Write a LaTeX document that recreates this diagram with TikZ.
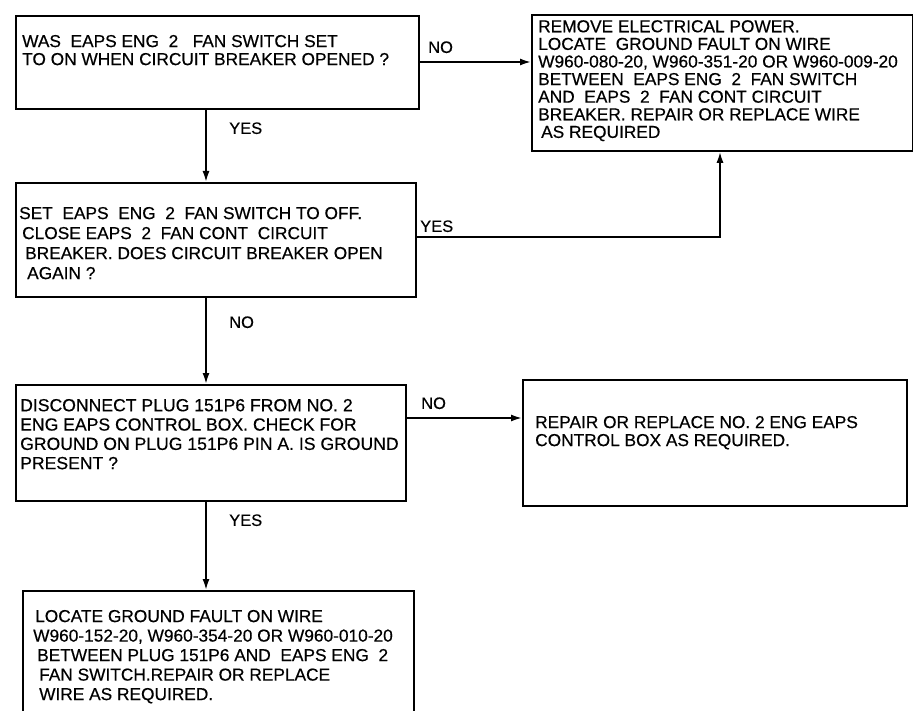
\documentclass[tikz,border=0pt]{standalone}
\usepackage{fontspec}
\setmainfont[FakeBold=0.45]{Liberation Sans}
\usetikzlibrary{arrows.meta}
\begin{document}
\begin{tikzpicture}[x=1pt,y=-1pt,
  box/.style={draw, line width=1.8pt, inner sep=0pt, anchor=north west},
  txt/.style={anchor=north west, inner sep=0pt, align=left},
  lbl/.style={anchor=west, inner sep=0pt, font=\fontsize{16.5}{18}\selectfont, text height=11.8pt, text depth=0pt},
  conn/.style={line width=1.8pt},
  arr/.style={conn, -{Latex[length=11pt,width=7pt]}}]
\useasboundingbox (0,0) rectangle (913,711);

% boxes
\node[box, minimum width=403pt, minimum height=93pt] (b1) at (15,15) {};
\node[box, minimum width=381pt, minimum height=136pt] (b2) at (531,14) {};
\node[box, minimum width=400pt, minimum height=114pt] (b3) at (15,182) {};
\node[box, minimum width=390pt, minimum height=116pt] (b4) at (15,384) {};
\node[box, minimum width=384pt, minimum height=126pt] (b5) at (522,379) {};
\node[box, minimum width=391pt, minimum height=140pt] (b6) at (22,590) {};

% texts
\node[txt, font=\fontsize{17.3}{18}\selectfont] (t1) at (22,34.8)
  {WAS~~EAPS ENG~~2~~~FAN SWITCH SET\\TO ON WHEN CIRCUIT BREAKER OPENED ?};
\node[txt, font=\fontsize{17.3}{17.6}\selectfont] (t2) at (538,20)
  {REMOVE ELECTRICAL POWER.\\LOCATE~~GROUND FAULT ON WIRE\\W960-080-20, W960-351-20 OR W960-009-20\\BETWEEN~~EAPS ENG~~2~~FAN SWITCH\\AND~~EAPS~~2~~FAN CONT CIRCUIT\\BREAKER. REPAIR OR REPLACE WIRE\\\hspace*{3pt}AS REQUIRED};
\node[txt, font=\fontsize{17.3}{20}\selectfont] (t3) at (19,206.8)
  {SET~~EAPS~~ENG~~2~~FAN SWITCH TO OFF.\\\hspace*{3pt}CLOSE EAPS~~2~~FAN CONT~~CIRCUIT\\\hspace*{6pt}BREAKER. DOES CIRCUIT BREAKER OPEN\\\hspace*{8pt}AGAIN ?};
\node[txt, font=\fontsize{17.6}{19.3}\selectfont] (t4) at (20,398.8)
  {DISCONNECT PLUG 151P6 FROM NO. 2\\ENG EAPS CONTROL BOX. CHECK FOR\\GROUND ON PLUG 151P6 PIN A. IS GROUND\\PRESENT ?};
\node[txt, font=\fontsize{17.3}{18}\selectfont] (t5) at (535,415.8)
  {REPAIR OR REPLACE NO. 2 ENG EAPS\\CONTROL BOX AS REQUIRED.};
\node[txt, font=\fontsize{17.3}{19.5}\selectfont] (t6) at (35,609.8)
  {LOCATE GROUND FAULT ON WIRE\\\hspace*{-2pt}W960-152-20, W960-354-20 OR W960-010-20\\\hspace*{2pt}BETWEEN PLUG 151P6 AND~~EAPS ENG~~2\\\hspace*{4pt}FAN SWITCH.REPAIR OR REPLACE\\\hspace*{4pt}WIRE AS REQUIRED.};

% helper coordinates
\coordinate (vx) at (206,0);
\coordinate (jx) at (720,0);
\coordinate (h1) at (0,62);
\coordinate (h3) at (0,237);
\coordinate (h4) at (0,418);

% connectors
\draw[arr] (b1.east |- h1) -- (b2.west |- h1);
\draw[arr] (b1.south -| vx) -- (b3.north -| vx);
\draw[arr] (b3.east |- h3) -| (b2.south -| jx);
\draw[arr] (b3.south -| vx) -- (b4.north -| vx);
\draw[arr] (b4.east |- h4) -- (b5.west |- h4);
\draw[arr] (b4.south -| vx) -- (b6.north -| vx);

% branch labels
\node[lbl] (l1) at (428,47) {NO};
\node[lbl] (l2) at (229,128) {YES};
\node[lbl] (l3) at (420,226) {YES};
\node[lbl] (l4) at (229,322) {NO};
\node[lbl] (l5) at (421,403) {NO};
\node[lbl] (l6) at (229,520) {YES};
\end{tikzpicture}
\end{document}
